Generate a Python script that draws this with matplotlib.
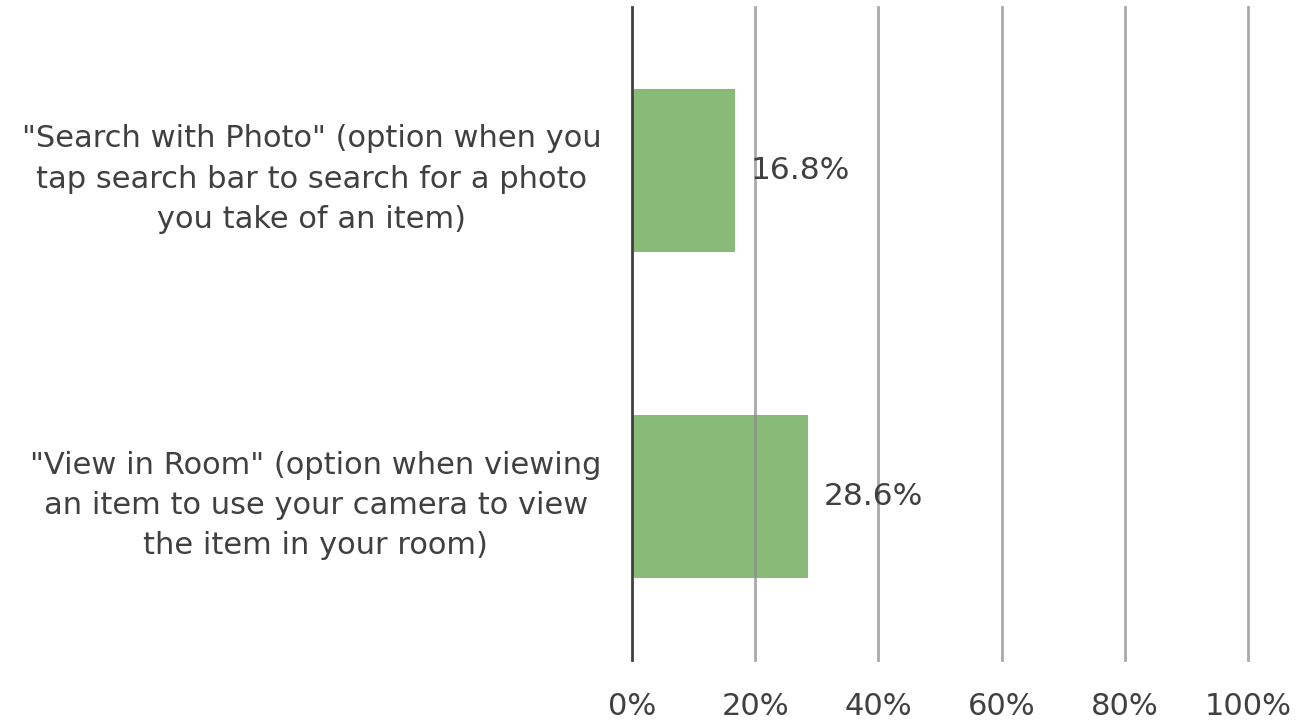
import matplotlib
matplotlib.use("Agg")
import matplotlib.pyplot as plt
from matplotlib.ticker import FuncFormatter

categories = [
    '"View in Room" (option when viewing\nan item to use your camera to view\nthe item in your room)',
    '"Search with Photo" (option when you\ntap search bar to search for a photo\nyou take of an item)',
]
values = [28.6, 16.8]
x_ticks = [0, 20, 40, 60, 80, 100]

plt.rcParams['font.family'] = ['DejaVu Sans']
text_color = '#404040'

fig = plt.figure(figsize=(12.96, 7.23), dpi=100)
ax = fig.add_axes([632 / 1296, 1 - 660 / 723, (1248 - 632) / 1296, (660 - 7) / 723])

bars = ax.barh(range(len(categories)), values, height=0.5, color='#87BB77', zorder=1)

ax.set_xlim(0, 100)
ax.set_ylim(-0.5, len(categories) - 0.5)
ax.set_xticks(x_ticks)
ax.xaxis.set_major_formatter(FuncFormatter(lambda v, _: f'{v:.0f}%'))
ax.set_yticks(range(len(categories)))
ax.set_yticklabels(categories, multialignment='center', linespacing=1.5)

ax.tick_params(axis='x', length=0, pad=23, labelsize=22, labelcolor=text_color)
ax.tick_params(axis='y', length=0, pad=22, labelsize=22, labelcolor=text_color)

for v in x_ticks[1:]:
    ax.axvline(v, color='#8C8C8C', lw=2, alpha=0.75, zorder=2, clip_on=False)

for s in ['top', 'right', 'bottom']:
    ax.spines[s].set_visible(False)
ax.spines['left'].set_color('#404040')
ax.spines['left'].set_linewidth(2)
ax.spines['left'].set_zorder(3)

for rect, v in zip(bars, values):
    ax.annotate(f'{v:.1f}%', (v, rect.get_y() + rect.get_height() / 2),
                xytext=(11, 0), textcoords='offset points', va='center', ha='left',
                fontsize=22.5, color=text_color, zorder=4)

fig.savefig('out.png', dpi=100, facecolor='white')
